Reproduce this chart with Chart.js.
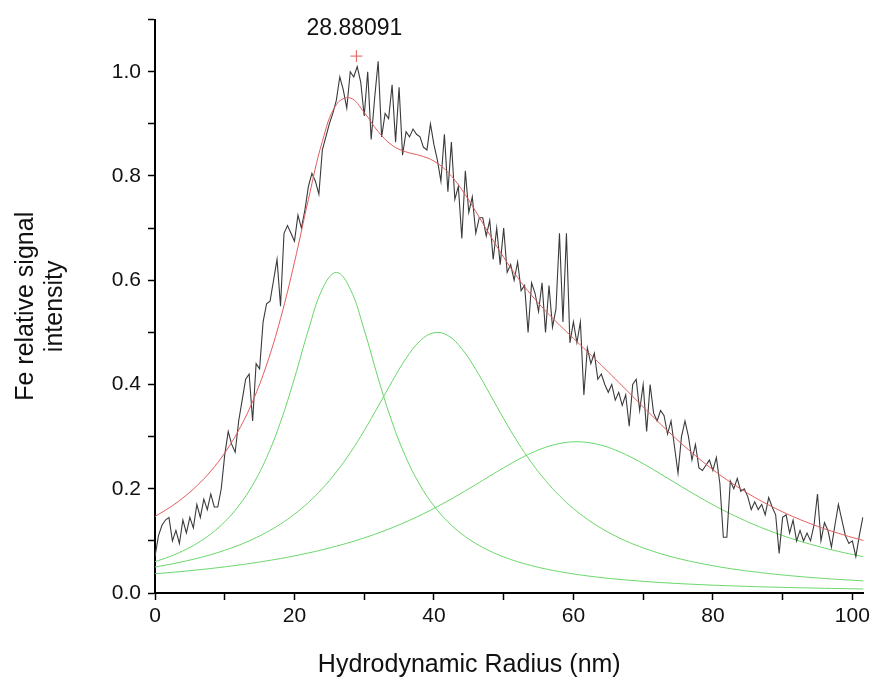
<!DOCTYPE html>
<html>
<head>
<meta charset="utf-8">
<script src="https://cdn.jsdelivr.net/npm/chart.js@4.4.1/dist/chart.umd.min.js"></script>
<style>
  html, body { margin: 0; padding: 0; background: #fff; }
  #wrap { width: 874px; height: 688px; }
</style>
</head>
<body>
<div id="wrap"><canvas id="c"></canvas></div>
<script>
// measured signal, sampled every 0.5 nm from 0
const rawStep = 0.5;
const rawY = [
  0.07,0.11,0.13,0.14,0.145,0.10,0.12,0.095,0.14,0.115,
  0.145,0.125,0.17,0.145,0.18,0.16,0.19,0.165,0.165,0.20,
  0.265,0.31,0.285,0.27,0.33,0.37,0.41,0.42,0.33,0.44,
  0.43,0.52,0.555,0.56,0.60,0.64,0.55,0.69,0.705,0.69,
  0.675,0.725,0.70,0.735,0.78,0.805,0.79,0.765,0.85,0.875,
  0.90,0.92,0.945,0.99,0.965,0.93,1.00,0.99,1.01,0.98,
  0.915,1.00,0.87,0.95,1.02,0.875,0.92,0.91,0.975,0.865,
  0.97,0.84,0.885,0.875,0.89,0.88,0.875,0.855,0.85,0.90,
  0.86,0.83,0.79,0.88,0.77,0.865,0.755,0.78,0.68,0.81,
  0.73,0.76,0.69,0.72,0.72,0.685,0.715,0.64,0.70,0.63,
  0.70,0.615,0.63,0.60,0.635,0.58,0.59,0.50,0.595,0.575,
  0.54,0.595,0.50,0.59,0.51,0.545,0.69,0.52,0.69,0.48,
  0.52,0.48,0.52,0.38,0.47,0.44,0.46,0.41,0.42,0.40,
  0.385,0.40,0.37,0.385,0.36,0.38,0.32,0.40,0.41,0.35,
  0.40,0.31,0.40,0.345,0.33,0.35,0.34,0.305,0.33,0.28,
  0.23,0.30,0.33,0.30,0.255,0.285,0.24,0.235,0.245,0.255,
  0.235,0.26,0.21,0.107,0.107,0.215,0.20,0.22,0.195,0.20,
  0.185,0.16,0.175,0.16,0.17,0.15,0.183,0.165,0.15,0.076,
  0.145,0.15,0.115,0.14,0.10,0.12,0.10,0.115,0.10,0.13,
  0.19,0.10,0.135,0.12,0.088,0.13,0.17,0.14,0.11,0.095,
  0.10,0.07,0.11,0.145
];

// fitted curves, sampled every 2 nm from 0
const fitStep = 2;
const peak1 = [0.0600,0.0693,0.0807,0.0950,0.1132,0.1366,0.1671,0.2071,0.2597,0.3279,0.4121,0.5046,0.5831,0.6150,0.5831,0.5046,0.4121,0.3279,0.2597,0.2071,0.1671,0.1366,0.1132,0.0950,0.0807,0.0693,0.0600,0.0525,0.0462,0.0410,0.0366,0.0328,0.0296,0.0269,0.0245,0.0224,0.0205,0.0189,0.0175,0.0162,0.0150,0.0140,0.0131,0.0122,0.0115,0.0108,0.0102,0.0096,0.0090,0.0086,0.0081,0.0077];
const peak2 = [0.0500,0.0547,0.0602,0.0664,0.0736,0.0819,0.0916,0.1030,0.1164,0.1323,0.1512,0.1737,0.2005,0.2321,0.2692,0.3115,0.3581,0.4058,0.4500,0.4834,0.4993,0.4939,0.4685,0.4288,0.3821,0.3344,0.2897,0.2500,0.2157,0.1866,0.1620,0.1414,0.1241,0.1095,0.0971,0.0866,0.0776,0.0698,0.0632,0.0574,0.0523,0.0478,0.0439,0.0405,0.0374,0.0346,0.0321,0.0299,0.0279,0.0261,0.0245,0.0230];
const peak3 = [0.0369,0.0391,0.0415,0.0442,0.0470,0.0502,0.0536,0.0574,0.0616,0.0661,0.0712,0.0768,0.0829,0.0898,0.0973,0.1057,0.1150,0.1252,0.1365,0.1488,0.1622,0.1767,0.1920,0.2080,0.2243,0.2403,0.2554,0.2687,0.2794,0.2866,0.2900,0.2888,0.2835,0.2744,0.2623,0.2481,0.2324,0.2162,0.2000,0.1843,0.1693,0.1554,0.1425,0.1307,0.1200,0.1102,0.1014,0.0935,0.0863,0.0798,0.0739,0.0686];
const fitSum = [0.1469,0.1631,0.1824,0.2056,0.2338,0.2687,0.3123,0.3675,0.4377,0.5263,0.6345,0.7551,0.8665,0.9369,0.9496,0.9218,0.8852,0.8589,0.8462,0.8393,0.8286,0.8072,0.7737,0.7318,0.6871,0.6440,0.6051,0.5712,0.5413,0.5142,0.4886,0.4630,0.4372,0.4108,0.3839,0.3571,0.3305,0.3049,0.2807,0.2579,0.2366,0.2172,0.1995,0.1834,0.1689,0.1556,0.1437,0.1330,0.1232,0.1145,0.1065,0.0993];

const peakX = 28.88091, peakY = 1.03, peakLabel = '28.88091';

const xTicks = [0,10,20,30,40,50,60,70,80,90,100];
const xLabels = [0,20,40,60,80,100];
const yTicks = [0,0.1,0.2,0.3,0.4,0.5,0.6,0.7,0.8,0.9,1.0,1.1];
const yLabels = [0,0.2,0.4,0.6,0.8,1.0];

const toPts = (arr, step) => arr.map((v,i)=> ({ x: i*step, y: v }));

const FONT = 'Liberation Sans, Arial, sans-serif';
const RED = 'rgb(226,92,92)', GREEN = 'rgb(104,214,104)';

const lineDs = (label, data, color, w, order, tension) => ({
  label, data, borderColor: color, borderWidth: w, pointRadius: 0,
  fill: false, tension, order
});

const peakText = {
  id: 'peakText',
  afterDatasetsDraw(chart) {
    const { ctx, scales: { x, y } } = chart;
    ctx.save();
    ctx.font = '23px ' + FONT;
    ctx.fillStyle = '#111';
    ctx.textAlign = 'center';
    ctx.textBaseline = 'bottom';
    ctx.fillText(peakLabel, x.getPixelForValue(peakX) - 2, y.getPixelForValue(peakY) - 16);
    ctx.restore();
  }
};

const xTitle = {
  id: 'xTitle',
  afterDraw(chart) {
    const { ctx, chartArea } = chart;
    ctx.save();
    ctx.font = '25px ' + FONT;
    ctx.fillStyle = '#111';
    ctx.textAlign = 'center';
    ctx.textBaseline = 'middle';
    ctx.fillText('Hydrodynamic Radius (nm)', (chartArea.left + chartArea.right) / 2 - 40, chartArea.bottom + 72);
    ctx.restore();
  }
};

new Chart(document.getElementById('c'), {
  type: 'line',
  data: {
    datasets: [
      lineDs('fit', toPts(fitSum, fitStep), RED, 1, 1, 0.4),
      lineDs('data', toPts(rawY, rawStep), '#3a3a3a', 1.1, 2, 0),
      lineDs('peak1', toPts(peak1, fitStep), GREEN, 1, 3, 0.4),
      lineDs('peak2', toPts(peak2, fitStep), GREEN, 1, 3, 0.4),
      lineDs('peak3', toPts(peak3, fitStep), GREEN, 1, 3, 0.4),
      { label: 'max', type: 'scatter', data: [{ x: peakX, y: peakY }], pointStyle: 'cross',
        pointRadius: 6, borderColor: RED, borderWidth: 1, order: 0 }
    ]
  },
  options: {
    responsive: true, maintainAspectRatio: false, animation: false,
    layout: { padding: { top: 15, right: 8, left: 0, bottom: 0 } },
    plugins: { legend: { display: false }, tooltip: { enabled: false } },
    scales: {
      x: {
        type: 'linear', min: 0, max: 101.6,
        afterBuildTicks: s => { s.ticks = xTicks.map(v => ({ value: v })); },
        afterFit: s => { s.height = 95; },
        grid: { drawOnChartArea: false, drawTicks: true, tickLength: 7, color: '#000', tickWidth: 1.5 },
        border: { display: true, color: '#000', width: 2 },
        ticks: {
          autoSkip: false, maxRotation: 0, padding: 4, color: '#111',
          font: { family: FONT, size: 21 },
          callback: v => xLabels.includes(v) ? String(v) : ''
        }
      },
      y: {
        type: 'linear', min: 0, max: 1.1,
        afterBuildTicks: s => { s.ticks = yTicks.map(v => ({ value: v })); },
        afterFit: s => { s.width = 155; },
        grid: { drawOnChartArea: false, drawTicks: true, tickLength: 7, color: '#000', tickWidth: 1.5 },
        border: { display: true, color: '#000', width: 2 },
        title: {
          display: true, text: ['Fe relative signal', 'intensity'], color: '#111',
          font: { family: FONT, size: 25, lineHeight: 1.15 }, padding: { top: 12, bottom: 0 }
        },
        ticks: {
          autoSkip: false, padding: 7, color: '#111',
          font: { family: FONT, size: 21 },
          callback: v => yLabels.some(l => Math.abs(l - v) < 1e-6) ? v.toFixed(1) : ''
        }
      }
    }
  },
  plugins: [peakText, xTitle]
});
</script>
</body>
</html>
